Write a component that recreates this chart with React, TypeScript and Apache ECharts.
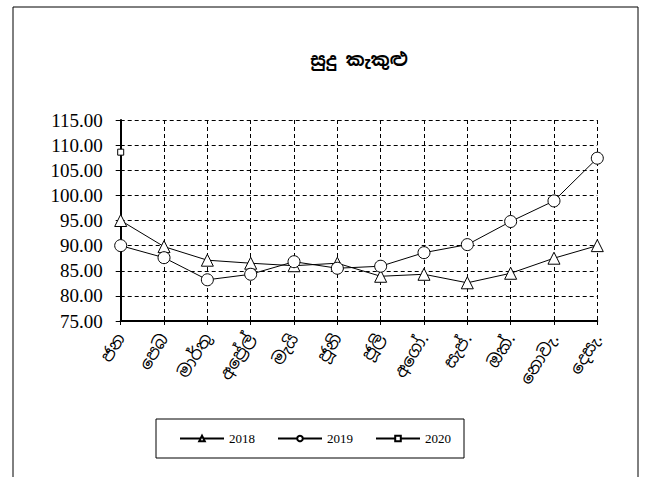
import React, { useEffect, useRef } from "react";
import * as echarts from "echarts";

const months = ["ජන", "පෙබ", "මාර්තු", "අප්‍රේල්", "මැයි", "ජූනි", "ජූලි", "අගෝ.", "සැප්.", "ඔක්.", "නොවැ.", "දෙසැ."];
const s2018 = [95.0, 89.8, 87.1, 86.5, 86.0, 86.5, 83.9, 84.3, 82.6, 84.5, 87.5, 90.0];
const s2019 = [90.0, 87.6, 83.2, 84.3, 86.8, 85.5, 85.9, 88.6, 90.2, 94.8, 98.9, 107.4];
const s2020 = [108.6, null, null, null, null, null, null, null, null, null, null, null];
const titleText = "සුදු කැකුළු";

const serif = "'Liberation Serif', 'Times New Roman', serif";
const sinhala = "'Noto Sans Sinhala', 'Noto Sans', sans-serif";

export default function App() {
  const ref = useRef<HTMLDivElement>(null);
  useEffect(() => {
    if (!ref.current) return;
    const chart = echarts.init(ref.current, null, { renderer: "svg" });
    const mk = (name: string, data: any[], symbol: string, size: number) => ({
      name,
      type: "line",
      data,
      symbol,
      symbolSize: size,
      showAllSymbol: true,
      lineStyle: { color: "#000", width: 1 },
      itemStyle: { color: "#fff", borderColor: "#000", borderWidth: 1 },
      emphasis: { disabled: true },
    });
    chart.setOption({
      animation: false,
      backgroundColor: "#fff",
      title: {
        text: titleText,
        left: 354,
        textAlign: "center",
        top: 45,
        textStyle: { fontSize: 18, fontWeight: "bold", color: "#000", fontFamily: sinhala },
      },
      graphic: [
        {
          type: "rect",
          shape: { x: 13, y: 7, width: 625, height: 500 },
          style: { fill: "none", stroke: "#000", lineWidth: 1 },
          silent: true,
        },
      ],
      legend: {
        left: 156,
        top: 419,
        padding: [13, 13, 13, 23],
        borderColor: "#000",
        borderWidth: 1,
        itemGap: 22,
        itemWidth: 44,
        itemHeight: 7,
        textStyle: { fontFamily: serif, fontSize: 13, color: "#000" },
        data: ["2018", "2019", "2020"],
      },
      grid: { left: 120.7, right: 48.7, top: 120, bottom: 156 },
      xAxis: {
        type: "category",
        data: months,
        boundaryGap: false,
        axisLine: { lineStyle: { color: "#000", width: 2 } },
        axisTick: { show: true, alignWithLabel: true, length: 4, lineStyle: { color: "#000" } },
        axisLabel: {
          rotate: 58,
          margin: 14,
          fontSize: 17,
          color: "#000",
          interval: 0,
          fontFamily: sinhala,
        },
        splitLine: { show: true, interval: 0, lineStyle: { color: "#000", type: [4, 3], width: 1 } },
      },
      yAxis: {
        type: "value",
        min: 75,
        max: 115,
        interval: 5,
        axisLine: { show: true, lineStyle: { color: "#000", width: 2 } },
        axisTick: { show: true, length: 5, lineStyle: { color: "#000" } },
        axisLabel: {
          formatter: (v: number) => v.toFixed(2),
          fontFamily: serif,
          fontSize: 19,
          color: "#000",
          margin: 18,
        },
        splitLine: { show: true, lineStyle: { color: "#000", type: [4, 3], width: 1 } },
      },
      series: [
        mk("2018", s2018, "triangle", 12),
        mk("2019", s2019, "circle", 12),
        mk("2020", s2020, "rect", 6),
      ],
    });
    return () => chart.dispose();
  }, []);
  return <div ref={ref} style={{ position: "fixed", left: 0, top: 0, width: 646, height: 477 }} />;
}
